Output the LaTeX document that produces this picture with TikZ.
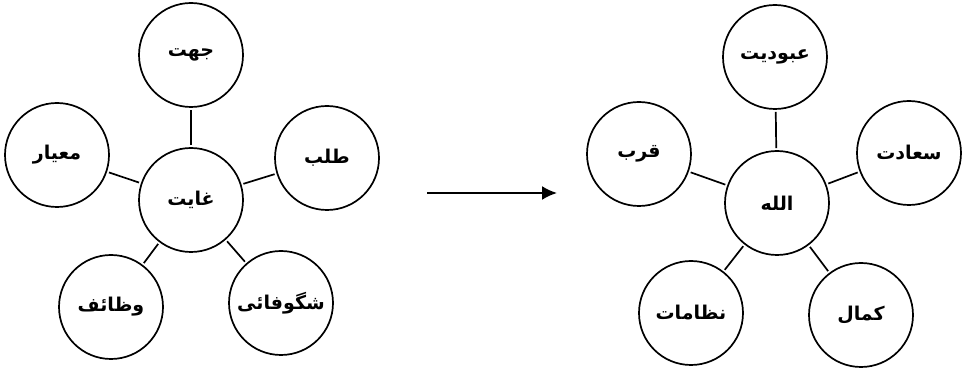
\documentclass[tikz,border=0pt]{standalone}
\usepackage{fontspec}
\usetikzlibrary{arrows.meta}
\TeXXeTstate=1
\newfontfamily\arabicfont[Script=Arabic]{DejaVu Sans}
\newcommand{\ur}[1]{{\arabicfont\bfseries\beginR #1\endR}}

\begin{document}
\begin{tikzpicture}[x=1pt, y=-1pt,
        bubble/.style={circle, draw, line width=1.7pt, minimum size=104pt, inner sep=0pt, font=\fontsize{19}{21}\selectfont},
        spoke/.style={line width=1.7pt, shorten <=2pt, shorten >=2pt}]
        \useasboundingbox (0, 0) rectangle (962, 371);
        % left star
        \node[bubble] (ghayat)   at (191, 200) {\ur{غایت}};
        \node[bubble] (jihat)    at (191, 55)  {\ur{جهت}};
        \node[bubble] (miyar)    at (57, 155)  {\ur{معیار}};
        \node[bubble] (talab)    at (327, 158) {\ur{طلب}};
        \node[bubble] (wazaif)   at (111, 307) {\ur{وظائف}};
        \node[bubble] (shagufai) at (281, 303) {\ur{شگوفائی}};
        \foreach \n in {jihat, miyar, talab, wazaif, shagufai}
            \draw[spoke] (ghayat) -- (\n);
        % right star
        \node[bubble] (allah)    at (777, 203) {\ur{الله}};
        \node[bubble] (ubudiyat) at (775, 57)  {\ur{عبودیت}};
        \node[bubble] (qurb)     at (639, 154) {\ur{قرب}};
        \node[bubble] (saadat)   at (909, 153) {\ur{سعادت}};
        \node[bubble] (nizamat)  at (691, 313) {\ur{نظامات}};
        \node[bubble] (kamal)    at (861, 315) {\ur{کمال}};
        \foreach \n in {ubudiyat, qurb, saadat, nizamat, kamal}
            \draw[spoke] (allah) -- (\n);
        % arrow between
        \coordinate (from) at (427, 193);
        \coordinate (to)   at (557, 193);
        \draw[line width=2pt, -{Latex[length=15pt, width=14pt]}] (from) -- (to);
\end{tikzpicture}
\end{document}
